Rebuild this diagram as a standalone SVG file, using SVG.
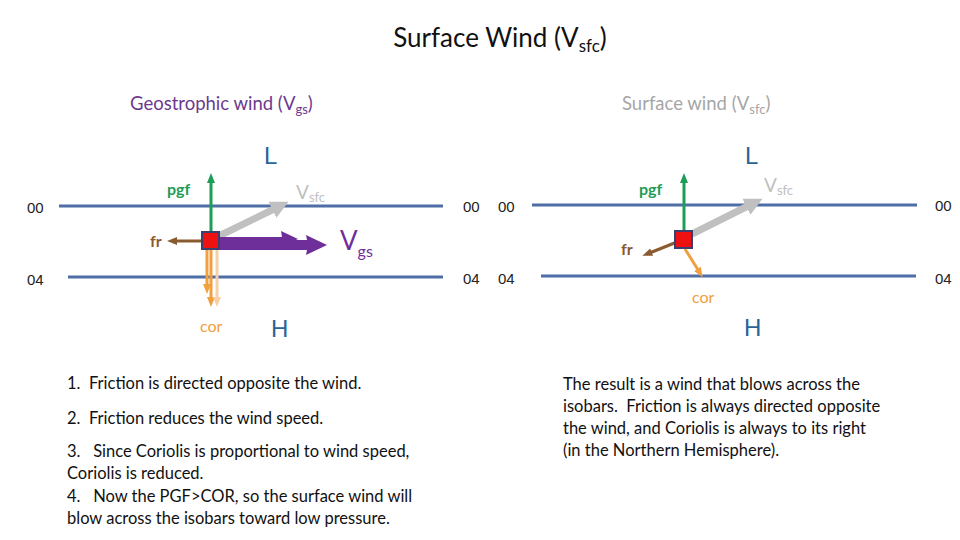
<svg xmlns="http://www.w3.org/2000/svg" width="960" height="540" viewBox="0 0 960 540">
<style>
.t{font-family:Lato,"Open Sans","Liberation Sans",sans-serif}
.iso{stroke:#4e6ea6;stroke-width:3}
.num{font-family:"Liberation Sans",sans-serif;font-size:15px;fill:#222}
.lh{font-family:"Liberation Sans",sans-serif;font-size:24px;fill:#2a6496}
.body{font-family:Lato,"Open Sans","Liberation Sans",sans-serif;font-size:16.5px;fill:#111;white-space:pre}
.pgf{stroke:#1f9c55;stroke-width:3}
.fr{stroke:#8a5a30;stroke-width:3}
.cor{stroke:#f0a040;stroke-width:3}
.vs{stroke:#c0c0c0;stroke-width:7}
.box{fill:#ee1111;stroke:#3b3f6e;stroke-width:2}
</style>
<defs>
<marker id="hg" markerUnits="userSpaceOnUse" markerWidth="10" markerHeight="10" refX="5" refY="5" orient="auto" viewBox="0 0 10 10"><path d="M0,1 L10,5 L0,9 Z" fill="#1f9c55"/></marker>
<marker id="hb" markerUnits="userSpaceOnUse" markerWidth="10" markerHeight="10" refX="5" refY="5" orient="auto" viewBox="0 0 10 10"><path d="M0,1 L10,5 L0,9 Z" fill="#8a5a30"/></marker>
<marker id="ho" markerUnits="userSpaceOnUse" markerWidth="10" markerHeight="10" refX="5" refY="5" orient="auto" viewBox="0 0 10 10"><path d="M0,1 L10,5 L0,9 Z" fill="#f0a040"/></marker>
<marker id="hol" markerUnits="userSpaceOnUse" markerWidth="10" markerHeight="10" refX="5" refY="5" orient="auto" viewBox="0 0 10 10"><path d="M0,1 L10,5 L0,9 Z" fill="#f8d0a8"/></marker>
<marker id="hs" markerUnits="userSpaceOnUse" markerWidth="18" markerHeight="18" refX="4" refY="9" orient="auto" viewBox="0 0 18 18"><path d="M0,0 L18,9 L0,18 Z" fill="#c0c0c0"/></marker>
</defs>
<rect width="960" height="540" fill="#ffffff"/>

<text class="t" x="500" y="47" font-size="26" text-anchor="middle" fill="#111">Surface Wind (V<tspan font-size="17" dy="5">sfc</tspan><tspan dy="-5">)</tspan></text>
<text class="t" x="130" y="110" font-size="18.5" fill="#6b3a8e">Geostrophic wind (V<tspan font-size="13" dy="4">gs</tspan><tspan dy="-4">)</tspan></text>
<text class="t" x="622" y="110" font-size="18.5" fill="#a6a6a6">Surface wind (V<tspan font-size="13" dy="4">sfc</tspan><tspan dy="-4">)</tspan></text>

<g id="left-panel">
<g id="isobars-left">
<line class="iso" x1="59" y1="206" x2="443" y2="206"/>
<line class="iso" x1="68" y1="277" x2="443" y2="277"/>
<text class="num" x="27" y="213">00</text>
<text class="num" x="27" y="285">04</text>
<text class="num" x="463" y="212">00</text>
<text class="num" x="463" y="284">04</text>
<text class="lh" x="264" y="164">L</text>
<text class="lh" x="271" y="337">H</text>
</g>
<g id="connectors-left">
<line class="pgf" x1="211" y1="232" x2="211" y2="178" marker-end="url(#hg)"/>
<line class="fr" x1="202" y1="241" x2="172" y2="241" marker-end="url(#hb)"/>
<line class="cor" x1="207" y1="250" x2="207" y2="289" marker-end="url(#ho)"/>
<line class="cor" x1="211" y1="250" x2="211" y2="302" marker-end="url(#ho)"/>
<line stroke="#f8d0a8" stroke-width="3" x1="217" y1="250" x2="217" y2="302" marker-end="url(#hol)"/>
<line class="vs" x1="219" y1="236" x2="276" y2="208" marker-end="url(#hs)"/>
<path d="M218,237 L282,237 L281,231 L298,239 L281,247 L282,244 L218,244 Z" fill="#6e2f9a"/>
<path d="M218,240 L307,240 L306,235 L327,245 L306,255 L307,250 L218,250 Z" fill="#6e2f9a"/>
</g>
<g id="parcel-left"><rect class="box" x="202" y="232" width="17" height="17"/></g>
<text class="t" x="167" y="195" font-size="16" font-weight="bold" fill="#1f9c55">pgf</text>
<text class="t" x="150" y="247" font-size="16" font-weight="bold" fill="#8a5a30">fr</text>
<text class="t" x="200" y="332" font-size="16" fill="#f0a040">cor</text>
<text class="t" x="296" y="199" font-size="19" fill="#bfbfbf">V<tspan font-size="13" dy="3">sfc</tspan></text>
<text class="t" x="340" y="250" font-size="26" fill="#6e2f9a">V<tspan font-size="16" dy="7">gs</tspan></text>
</g>

<g id="right-panel">
<g id="isobars-right">
<line class="iso" x1="532" y1="205" x2="917" y2="205"/>
<line class="iso" x1="541" y1="276" x2="916" y2="276"/>
<text class="num" x="498" y="212">00</text>
<text class="num" x="498" y="284">04</text>
<text class="num" x="935" y="211">00</text>
<text class="num" x="935" y="284">04</text>
<text class="lh" x="745" y="164">L</text>
<text class="lh" x="744" y="336">H</text>
</g>
<g id="connectors-right">
<line class="pgf" x1="684" y1="231" x2="684" y2="178" marker-end="url(#hg)"/>
<line class="fr" x1="677" y1="242" x2="647" y2="254" marker-end="url(#hb)"/>
<line class="cor" x1="685" y1="249" x2="700" y2="273" marker-end="url(#ho)"/>
<line class="vs" x1="692" y1="234" x2="750" y2="205" marker-end="url(#hs)"/>
</g>
<g id="parcel-right"><rect class="box" x="675" y="231" width="17" height="17"/></g>
<text class="t" x="639" y="195" font-size="16" font-weight="bold" fill="#1f9c55">pgf</text>
<text class="t" x="621" y="255" font-size="16" font-weight="bold" fill="#8a5a30">fr</text>
<text class="t" x="692" y="303" font-size="16" fill="#f0a040">cor</text>
<text class="t" x="764" y="192" font-size="19" fill="#bfbfbf">V<tspan font-size="13" dy="3">sfc</tspan></text>
</g>

<g id="notes-left">
<text class="body" x="67" y="389">1.  Friction is directed opposite the wind.</text>
<text class="body" x="67" y="424">2.  Friction reduces the wind speed.</text>
<text class="body" x="67" y="457">3.   Since Coriolis is proportional to wind speed,</text>
<text class="body" x="67" y="479">Coriolis is reduced.</text>
<text class="body" x="67" y="502">4.   Now the PGF&gt;COR, so the surface wind will</text>
<text class="body" x="67" y="524">blow across the isobars toward low pressure.</text>
</g>
<g id="notes-right">
<text class="body" x="563" y="390">The result is a wind that blows across the</text>
<text class="body" x="563" y="412">isobars.  Friction is always directed opposite</text>
<text class="body" x="563" y="434">the wind, and Coriolis is always to its right</text>
<text class="body" x="563" y="456">(in the Northern Hemisphere).</text>
</g>
</svg>
